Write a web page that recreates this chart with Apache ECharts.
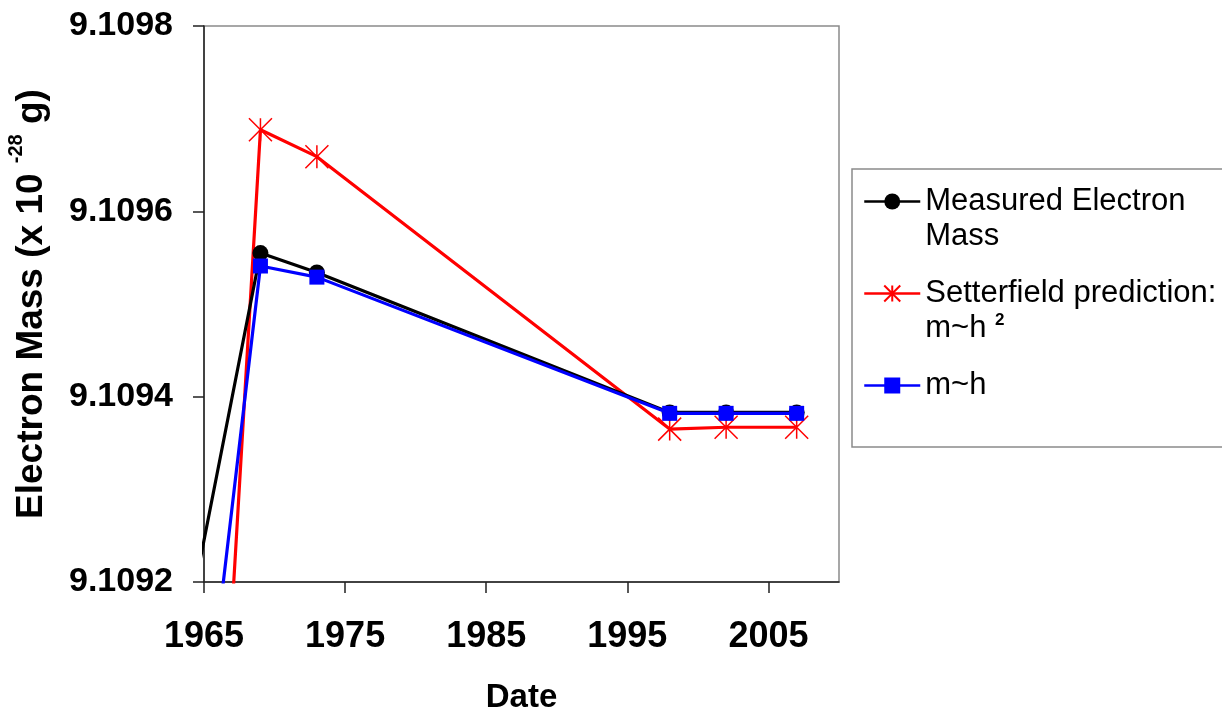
<!DOCTYPE html>
<html>
<head>
<meta charset="utf-8">
<script src="https://cdn.jsdelivr.net/npm/echarts@6/dist/echarts.min.js"></script>
<style>
  html, body { margin: 0; padding: 0; background: #ffffff; }
  #chart { width: 1222px; height: 713px; }
</style>
</head>
<body>
<div id="chart"></div>
<script>
// Electron mass (units of 1e-28 g) by date of determination
const years = [1963, 1969, 1973, 1998, 2002, 2007];
const measuredMass = [9.10909, 9.109555, 9.109534, 9.109383, 9.109383, 9.109383];
const predictionSquared = [9.10814, 9.109688, 9.109659, 9.109365, 9.109367, 9.109367];
const predictionLinear = [9.108763, 9.109541, 9.109529, 9.109382, 9.109382, 9.109382];

const xTickValues = [1965, 1975, 1985, 1995, 2005];
const seriesNames = ['Measured Electron Mass', 'Setterfield prediction: m~h2', 'm~h'];
const legendLabels = {
  'Measured Electron Mass': 'Measured Electron\nMass',
  'Setterfield prediction: m~h2': 'Setterfield prediction:\nm~h {s|2}',
  'm~h': 'm~h'
};

const FONT = '"Liberation Sans", Arial, sans-serif';
const pairs = vals => years.map((y, i) => [y, vals[i]]);

// six-spoke asterisk marker
const STAR = 'path://M-1,-1L1,1M-1,1L1,-1M0,-1L0,1';

const chart = echarts.init(document.getElementById('chart'), null, { renderer: 'canvas' });

chart.setOption({
  animation: false,
  backgroundColor: '#ffffff',
  grid: {
    left: 204, top: 26, width: 635, height: 556,
    outerBoundsMode: 'none',
    containLabel: false,
    show: true, borderColor: '#8a8a8a', borderWidth: 1.5
  },
  xAxis: {
    type: 'value',
    min: 1965, max: 2010, interval: 10,
    name: 'Date',
    nameLocation: 'middle',
    nameGap: 99,
    nameTextStyle: { fontFamily: FONT, fontSize: 33, fontWeight: 'bold', color: '#000' },
    axisLine: { show: true, lineStyle: { color: '#222', width: 1.5 } },
    axisTick: { show: true, inside: false, length: 11, customValues: xTickValues, lineStyle: { color: '#222', width: 1.5 } },
    axisLabel: {
      customValues: xTickValues,
      margin: 37,
      fontFamily: FONT, fontSize: 36, fontWeight: 'bold', color: '#000',
      formatter: v => String(v)
    },
    splitLine: { show: false }
  },
  yAxis: {
    type: 'value',
    min: 9.1092, max: 9.1098, interval: 0.0002,
    name: '{t|Electron Mass (x 10 }{s|-28}{t| g)}',
    nameLocation: 'middle',
    nameGap: 146,
    nameTextStyle: {
      fontFamily: FONT, fontWeight: 'bold', color: '#000',
      rich: {
        t: { fontFamily: FONT, fontSize: 37, fontWeight: 'bold', color: '#000', lineHeight: 52 },
        s: { fontFamily: FONT, fontSize: 20, fontWeight: 'bold', color: '#000', lineHeight: 20, verticalAlign: 'top' }
      }
    },
    axisLine: { show: true, lineStyle: { color: '#222', width: 1.5 } },
    axisTick: { show: true, inside: false, length: 11, lineStyle: { color: '#222', width: 1.5 } },
    axisLabel: {
      margin: 31,
      fontFamily: FONT, fontSize: 34, fontWeight: 'bold', color: '#000',
      formatter: v => v.toFixed(4)
    },
    splitLine: { show: false }
  },
  legend: {
    orient: 'vertical',
    left: 852, top: 169,
    padding: [15, 220, 44, 11],
    borderColor: '#8a8a8a', borderWidth: 1.5,
    itemWidth: 56, itemHeight: 20, itemGap: 24,
    selectedMode: false,
    lineStyle: { width: 2.5 },
    textStyle: {
      fontFamily: FONT, fontSize: 31, color: '#000', lineHeight: 35,
      rich: {
        s: { fontFamily: FONT, fontSize: 17, fontWeight: 'bold', color: '#000', lineHeight: 18, verticalAlign: 'top', padding: [1, 0, 0, 0] }
      }
    },
    data: [
      { name: seriesNames[0], textStyle: { padding: [0, 0, -35, 0] } },
      { name: seriesNames[1], textStyle: { padding: [0, 0, -35, 0] } },
      { name: seriesNames[2] }
    ],
    formatter: n => legendLabels[n]
  },
  series: [
    {
      name: seriesNames[0],
      type: 'line',
      data: pairs(measuredMass),
      symbol: 'circle', symbolSize: 16,
      lineStyle: { color: '#000000', width: 3.2 },
      itemStyle: { color: '#000000' },
      clip: true, z: 3
    },
    {
      name: seriesNames[1],
      type: 'line',
      data: pairs(predictionSquared),
      symbol: STAR, symbolSize: 23,
      lineStyle: { color: '#ff0000', width: 3.2 },
      itemStyle: { color: '#ff0000', borderColor: '#ff0000', borderWidth: 1.5 },
      clip: true, z: 2
    },
    {
      name: seriesNames[2],
      type: 'line',
      data: pairs(predictionLinear),
      symbol: 'rect', symbolSize: 15,
      lineStyle: { color: '#0000ff', width: 3.2 },
      itemStyle: { color: '#0000ff' },
      clip: true, z: 4
    }
  ]
});
</script>
</body>
</html>
